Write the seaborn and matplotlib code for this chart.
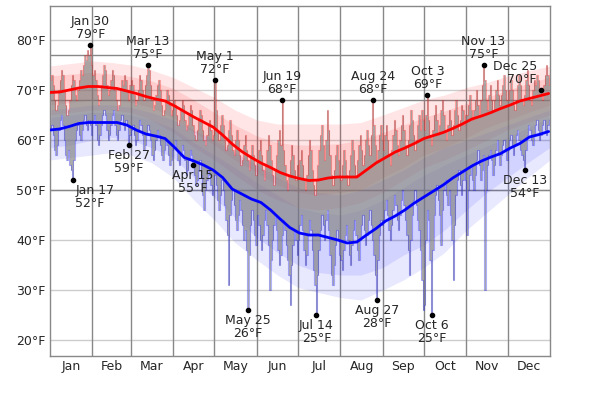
import numpy as np
import pandas as pd
import matplotlib
matplotlib.use("Agg")
import matplotlib.pyplot as plt
import seaborn as sns

months = ["Jan", "Feb", "Mar", "Apr", "May", "Jun", "Jul", "Aug", "Sep", "Oct", "Nov", "Dec"]
month_days = [31, 28, 31, 30, 31, 30, 31, 31, 30, 31, 30, 31]

# daily high (°F), one list per month
high_by_month = [
    [72, 73, 71, 68, 66, 67, 70, 72, 74, 73, 70, 67, 65, 66, 68, 71, 73, 72, 69, 68, 70, 72, 74, 73, 75, 77, 76, 78, 77, 79, 75],
    [73, 74, 72, 69, 67, 68, 71, 73, 75, 74, 71, 69, 70, 72, 74, 73, 70, 68, 66, 67, 70, 72, 71, 73, 72, 70, 68, 71],
    [72, 71, 69, 67, 68, 70, 73, 72, 70, 68, 71, 73, 75, 74, 71, 68, 66, 67, 69, 71, 72, 70, 67, 65, 66, 68, 70, 69, 67, 65, 66],
    [68, 67, 65, 63, 64, 66, 68, 67, 64, 62, 63, 65, 67, 66, 63, 61, 60, 62, 64, 66, 65, 62, 60, 59, 61, 63, 64, 62, 60, 61],
    [72, 66, 62, 60, 63, 65, 63, 60, 58, 59, 62, 64, 61, 58, 57, 60, 62, 60, 57, 55, 56, 59, 61, 58, 56, 54, 57, 59, 57, 55, 53],
    [56, 58, 60, 57, 54, 52, 55, 58, 61, 59, 56, 53, 51, 54, 57, 60, 62, 59, 68, 58, 55, 52, 50, 53, 56, 59, 57, 54, 52, 55],
    [53, 56, 58, 55, 52, 50, 53, 57, 60, 58, 54, 51, 49, 52, 55, 58, 61, 63, 59, 56, 60, 66, 62, 57, 53, 51, 54, 57, 59, 56, 53],
    [52, 55, 58, 56, 53, 51, 54, 57, 60, 58, 55, 53, 56, 59, 61, 58, 55, 57, 60, 62, 59, 57, 61, 68, 63, 59, 56, 58, 61, 63, 60],
    [58, 61, 63, 60, 57, 55, 58, 61, 64, 62, 59, 57, 60, 63, 65, 62, 59, 57, 60, 63, 66, 64, 61, 58, 60, 63, 65, 62, 66, 64],
    [62, 65, 69, 64, 61, 59, 62, 65, 67, 64, 61, 63, 66, 68, 65, 62, 60, 63, 66, 64, 61, 63, 66, 68, 65, 62, 64, 67, 66, 63, 65],
    [65, 67, 69, 66, 64, 66, 68, 70, 67, 65, 68, 71, 75, 72, 68, 66, 69, 71, 68, 66, 68, 70, 72, 69, 67, 69, 71, 73, 70, 68],
    [68, 70, 72, 70, 67, 66, 68, 71, 73, 71, 68, 67, 69, 72, 74, 71, 68, 67, 70, 72, 71, 73, 72, 70, 70, 68, 71, 73, 75, 73, 71],
]
# daily low (°F), one list per month
low_by_month = [
    [62, 63, 61, 58, 57, 59, 62, 64, 65, 63, 60, 57, 56, 58, 55, 54, 52, 56, 60, 62, 63, 61, 60, 62, 64, 65, 63, 62, 64, 63, 61],
    [64, 65, 63, 60, 59, 61, 63, 65, 66, 65, 62, 60, 61, 63, 65, 66, 63, 61, 60, 62, 64, 65, 63, 62, 64, 63, 59, 61],
    [62, 63, 61, 59, 60, 62, 64, 63, 61, 58, 59, 61, 63, 62, 60, 57, 56, 58, 60, 62, 61, 59, 57, 56, 58, 60, 59, 57, 55, 56, 58],
    [59, 60, 58, 56, 55, 57, 59, 58, 56, 53, 54, 56, 58, 57, 55, 53, 51, 52, 54, 56, 53, 49, 46, 50, 52, 54, 53, 51, 49, 50],
    [53, 51, 48, 46, 49, 52, 50, 47, 44, 41, 31, 45, 48, 50, 47, 44, 42, 45, 48, 46, 43, 40, 42, 38, 26, 37, 43, 46, 44, 41, 39],
    [45, 43, 40, 38, 41, 44, 46, 43, 39, 30, 36, 40, 43, 45, 42, 38, 35, 37, 41, 44, 42, 39, 36, 33, 27, 35, 39, 42, 40, 37],
    [40, 43, 45, 42, 38, 35, 37, 41, 44, 42, 38, 34, 31, 25, 33, 38, 42, 45, 43, 40, 44, 46, 42, 37, 33, 31, 35, 39, 42, 40, 37],
    [36, 34, 38, 41, 43, 40, 37, 35, 39, 42, 44, 41, 38, 36, 40, 43, 45, 42, 39, 41, 44, 46, 43, 40, 37, 33, 28, 36, 41, 44, 43],
    [44, 46, 48, 45, 42, 40, 43, 46, 49, 47, 44, 42, 45, 48, 50, 47, 44, 41, 38, 33, 40, 45, 48, 50, 47, 44, 42, 38, 32, 26],
    [27, 40, 46, 44, 36, 25, 38, 45, 49, 51, 48, 45, 39, 46, 50, 52, 49, 47, 50, 45, 40, 32, 43, 49, 52, 54, 51, 49, 52, 54, 52],
    [41, 50, 53, 55, 52, 50, 53, 56, 58, 55, 52, 54, 57, 30, 50, 55, 57, 58, 56, 53, 55, 58, 60, 57, 55, 57, 59, 60, 58, 56],
    [58, 60, 61, 59, 57, 59, 61, 62, 60, 58, 57, 56, 54, 58, 61, 63, 62, 60, 59, 61, 63, 64, 62, 60, 61, 63, 64, 62, 61, 63, 64],
]

# average high / low, sampled weekly (day of year 0, 7, 14, ...)
line_days = list(range(0, 365, 7))
avg_high = [69.5, 69.6, 70.0, 70.4, 70.7, 70.7, 70.5, 70.3, 69.8, 69.3, 68.7, 68.2, 67.8, 66.8,
            65.7, 64.6, 63.6, 62.6, 61.0, 59.2, 57.7, 56.5, 55.4, 54.5, 53.5, 52.8, 52.3, 51.9,
            52.0, 52.4, 52.6, 52.6, 52.6, 54.0, 55.4, 56.5, 57.6, 58.4, 59.3, 60.3, 60.9, 61.5,
            62.3, 63.2, 64.2, 64.8, 65.5, 66.3, 67.0, 67.8, 68.3, 68.8, 69.3]
avg_low = [62.0, 62.2, 62.7, 63.3, 63.5, 63.5, 63.5, 63.5, 63.0, 62.0, 61.2, 60.8, 60.3, 58.5,
           56.5, 55.8, 55.0, 54.0, 52.5, 50.2, 49.2, 48.2, 47.5, 46.0, 44.2, 42.5, 41.4, 41.0,
           41.0, 40.5, 40.0, 39.4, 39.6, 41.0, 42.3, 43.8, 44.8, 46.0, 47.4, 48.6, 49.8, 51.0,
           52.4, 53.6, 54.8, 55.8, 56.6, 57.3, 58.4, 59.3, 60.6, 61.1, 61.7]

# percentile bands, sampled twice a month
band_days = [0, 15, 31, 45, 59, 74, 90, 105, 120, 135, 151, 166, 181, 196, 212, 227, 243, 258, 273, 288, 304, 319, 334, 349, 365]
high_p90 = [74.8, 75.3, 75.8, 75.5, 75.0, 74.0, 72.5, 70.5, 68.5, 66.0, 64.0, 63.2, 63.2, 63.2, 63.2, 63.5, 65.0, 66.5, 68.0, 69.0, 70.5, 71.5, 72.8, 73.8, 74.8]
high_p75 = [72.8, 73.2, 73.5, 73.2, 72.7, 71.8, 70.3, 68.0, 65.5, 63.0, 60.8, 59.5, 59.0, 59.0, 59.3, 60.0, 61.5, 63.0, 64.5, 65.8, 67.3, 68.5, 70.0, 71.3, 72.6]
high_p25 = [67.0, 67.5, 68.0, 68.0, 67.5, 66.5, 64.5, 61.5, 59.0, 56.0, 53.5, 51.0, 49.5, 49.0, 49.5, 50.0, 52.5, 54.5, 57.0, 58.5, 60.5, 62.5, 64.0, 65.5, 67.0]
high_p10 = [65.0, 65.5, 66.0, 66.0, 65.5, 64.0, 61.5, 58.5, 56.0, 53.0, 50.0, 48.0, 46.5, 46.0, 46.5, 47.5, 49.5, 52.0, 54.5, 56.0, 58.0, 60.0, 62.0, 63.5, 65.0]
low_p90 = [66.0, 66.5, 67.0, 67.0, 66.5, 65.5, 64.0, 62.0, 60.0, 57.5, 55.0, 52.5, 50.5, 49.5, 49.0, 50.0, 52.0, 54.0, 56.5, 58.5, 60.0, 61.5, 63.0, 64.5, 66.0]
low_p75 = [64.5, 65.0, 65.5, 65.5, 65.0, 64.0, 62.3, 59.5, 57.0, 54.5, 51.5, 49.0, 46.5, 45.5, 45.0, 46.0, 48.0, 50.5, 53.0, 55.0, 57.0, 58.8, 60.5, 62.5, 64.5]
low_p25 = [58.5, 59.0, 60.0, 60.5, 60.0, 58.5, 56.5, 52.5, 48.5, 44.5, 40.5, 37.5, 35.0, 33.5, 33.0, 33.0, 34.5, 37.0, 39.0, 42.0, 46.0, 49.5, 52.5, 55.5, 58.5]
low_p10 = [56.0, 56.5, 57.0, 57.5, 57.0, 55.5, 52.5, 48.0, 44.0, 39.5, 36.0, 33.0, 30.5, 29.5, 28.5, 28.0, 30.0, 32.0, 34.5, 37.5, 42.0, 45.5, 49.0, 52.5, 56.0]

# annotated days
ann_month = [0, 0, 1, 2, 3, 4, 4, 5, 6, 7, 7, 9, 9, 10, 11, 11]
ann_dom = [30, 17, 27, 13, 15, 1, 25, 19, 14, 24, 27, 3, 6, 13, 25, 13]
ann_temp = [79, 52, 59, 75, 55, 72, 26, 68, 25, 68, 28, 69, 25, 75, 70, 54]
ann_side = ["top", "bottom", "bottom", "top", "bottom", "top", "bottom", "top",
            "bottom", "top", "bottom", "top", "bottom", "top", "top", "bottom"]
ann_align = ["center", "left", "center", "center", "center", "center", "center", "center",
             "center", "center", "center", "center", "center", "center", "right", "center"]

for m in range(12):
    assert len(high_by_month[m]) == month_days[m] == len(low_by_month[m]), months[m]

sns.set_style("white")
plt.rcParams["font.family"] = ["DejaVu Sans"]

month_start = np.concatenate([[0], np.cumsum(month_days)])
days_df = pd.DataFrame({
    "day": np.arange(365) + 0.5,
    "high": sum(high_by_month, []),
    "low": sum(low_by_month, []),
})
avg_df = pd.DataFrame({"day": line_days, "high": avg_high, "low": avg_low})

fig = plt.figure(figsize=(6, 3.94), dpi=100)
ax = fig.add_axes([50 / 600, 38 / 394, 500 / 600, 350 / 394])

# grid
for t in range(20, 90, 10):
    ax.axhline(t, color="#cccccc", lw=1, zorder=0)
for t in [50, 68, 77]:
    ax.axhline(t, color="#888888", lw=1, zorder=0)
for d in month_start[1:-1]:
    ax.axvline(d, color="#888888", lw=1, zorder=0)

# percentile bands
ax.fill_between(band_days, high_p10, high_p90, color="#ff0000", alpha=0.10, lw=0, zorder=1)
ax.fill_between(band_days, high_p25, high_p75, color="#ff0000", alpha=0.10, lw=0, zorder=1)
ax.fill_between(band_days, low_p10, low_p90, color="#0000ff", alpha=0.09, lw=0, zorder=1)
ax.fill_between(band_days, low_p25, low_p75, color="#0000ff", alpha=0.09, lw=0, zorder=1)

# daily bars
ax.fill_between(days_df["day"], days_df["low"], days_df["high"], step="mid",
                color="#7f7f7f", alpha=0.65, lw=0, zorder=2)
ax.step(days_df["day"], days_df["high"], where="mid", color="#ff0000", alpha=0.28, lw=0.8, zorder=3)
ax.step(days_df["day"], days_df["low"], where="mid", color="#0000ff", alpha=0.28, lw=0.8, zorder=3)

# averages
sns.lineplot(data=avg_df, x="day", y="high", color="#ff0000", lw=2, ax=ax, zorder=4)
sns.lineplot(data=avg_df, x="day", y="low", color="#0000ff", lw=2, ax=ax, zorder=4)

# annotations
for m, dom, temp, side, align in zip(ann_month, ann_dom, ann_temp, ann_side, ann_align):
    d = month_start[m] + dom - 0.5
    ax.plot(d, temp, "o", color="black", ms=3, zorder=6)
    label = f"{months[m]} {dom}\n{temp}°F"
    dx = {"center": 0, "left": 2, "right": -3}[align]
    if side == "top":
        ax.annotate(label, (d, temp), xytext=(dx, 3), textcoords="offset points",
                    ha=align, va="bottom", ma=align, fontsize=9, linespacing=0.95, zorder=7)
    else:
        ax.annotate(label, (d, temp), xytext=(dx, -3), textcoords="offset points",
                    ha=align, va="top", ma=align, fontsize=9, linespacing=0.95, zorder=7)

ax.set_xlim(0, 365)
ax.set_ylim(16.8, 86.8)
ax.set_yticks(range(20, 90, 10))
ax.set_yticklabels([f"{t}°F" for t in range(20, 90, 10)], fontsize=9)
ax.set_xticks((month_start[:-1] + month_start[1:]) / 2)
ax.set_xticklabels(months, fontsize=9)
ax.tick_params(length=0, pad=3)
ax.set_xlabel("")
ax.set_ylabel("")
for s in ax.spines.values():
    s.set_color("#888888")
    s.set_linewidth(1)

fig.savefig("out.png", dpi=100)
